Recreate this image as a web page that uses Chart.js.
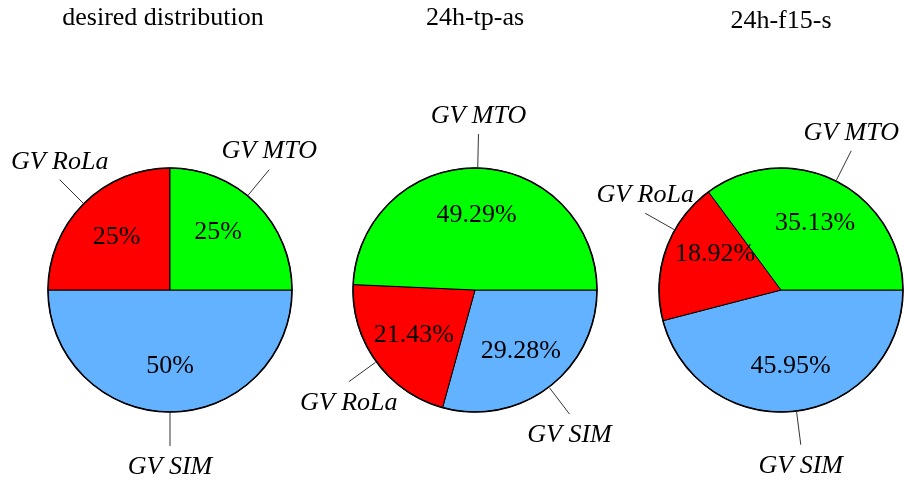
<!DOCTYPE html>
<html>
<head>
<meta charset="utf-8">
<script src="https://cdn.jsdelivr.net/npm/chart.js@4"></script>
<style>
  html, body { margin: 0; padding: 0; background: #fff; overflow: hidden; }
  #wrap { position: relative; width: 904px; height: 482px; }
  #wrap canvas { position: absolute; left: 0; top: 0; }
</style>
</head>
<body>
<div id="wrap">
  <canvas id="pieDesired" width="904" height="482"></canvas>
  <canvas id="pieTpAs" width="904" height="482"></canvas>
  <canvas id="pieF15s" width="904" height="482"></canvas>
</div>
<script>
// slices go clockwise from 3 o'clock
const categories = ["GV SIM", "GV RoLa", "GV MTO"];
const titles = ["desired distribution", "24h-tp-as", "24h-f15-s"];
const desiredValues = [50, 25, 25];
const tpAsValues = [29.28, 21.43, 49.29];
const f15sValues = [45.95, 18.92, 35.13];
const sliceColors = ["#63b2ff", "#ff0000", "#00ff00"];

const FONT = "'Liberation Serif', 'Times New Roman', serif";

// labels, leader lines, outer rim and title
const pieLabels = {
  id: "pieLabels",
  afterDatasetsDraw(chart, args, opts) {
    const ctx = chart.ctx;
    const arcs = chart.getDatasetMeta(0).data;
    const values = chart.data.datasets[0].data;
    const cx = arcs[0].x, cy = arcs[0].y, R = arcs[0].outerRadius;
    const shift = opts.shift || [0, 0, 0];

    ctx.save();
    ctx.beginPath();
    ctx.arc(cx, cy, R, 0, Math.PI * 2);
    ctx.lineWidth = 1.6;
    ctx.strokeStyle = "#000";
    ctx.stroke();

    ctx.fillStyle = "#000";
    ctx.textAlign = "center";
    ctx.textBaseline = "middle";
    arcs.forEach((arc, i) => {
      // some labels are nudged a little round the rim, like in the original
      const mid = (arc.startAngle + arc.endAngle) / 2 + shift[i] * Math.PI / 180;
      const c = Math.cos(mid), s = Math.sin(mid);

      ctx.font = "26px " + FONT;
      ctx.fillText(values[i] + "%", cx + c * R * 0.62, cy + s * R * 0.62 + 1);

      const ex = cx + c * (R + 34), ey = cy + s * (R + 34);
      ctx.beginPath();
      ctx.moveTo(cx + c * (R + 1), cy + s * (R + 1));
      ctx.lineTo(ex, ey);
      ctx.lineWidth = 1;
      ctx.strokeStyle = "#333";
      ctx.stroke();

      ctx.font = "italic 26px " + FONT;
      ctx.fillText(chart.data.labels[i], ex, ey + (s >= 0 ? 21 : -18));
    });

    ctx.font = "26px " + FONT;
    ctx.textBaseline = "alphabetic";
    ctx.fillText(opts.title, opts.titleX, opts.titleY);
    ctx.restore();
  }
};

function makePie(id, values, title, centerX, titleX, titleY, shift) {
  const half = 120;
  return new Chart(id, {
    type: "pie",
    data: {
      labels: categories,
      datasets: [{
        data: values,
        backgroundColor: sliceColors,
        borderColor: "#000",
        borderWidth: 1,
        radius: 122
      }]
    },
    options: {
      responsive: false,
      animation: false,
      rotation: 90,
      layout: {
        padding: { top: 98, bottom: 0, left: centerX - half, right: 904 - centerX - half }
      },
      plugins: {
        legend: { display: false },
        tooltip: { enabled: false },
        pieLabels: { title: title, titleX: titleX, titleY: titleY, shift: shift }
      }
    },
    plugins: [pieLabels]
  });
}

makePie("pieDesired", desiredValues, titles[0], 170, 163, 25, [0, 0, -5.5]);
makePie("pieTpAs", tpAsValues, titles[1], 475, 475, 25, [0, 0, 0]);
makePie("pieF15s", f15sValues, titles[2], 781, 781, 28, [0, 10, 0]);
</script>
</body>
</html>
